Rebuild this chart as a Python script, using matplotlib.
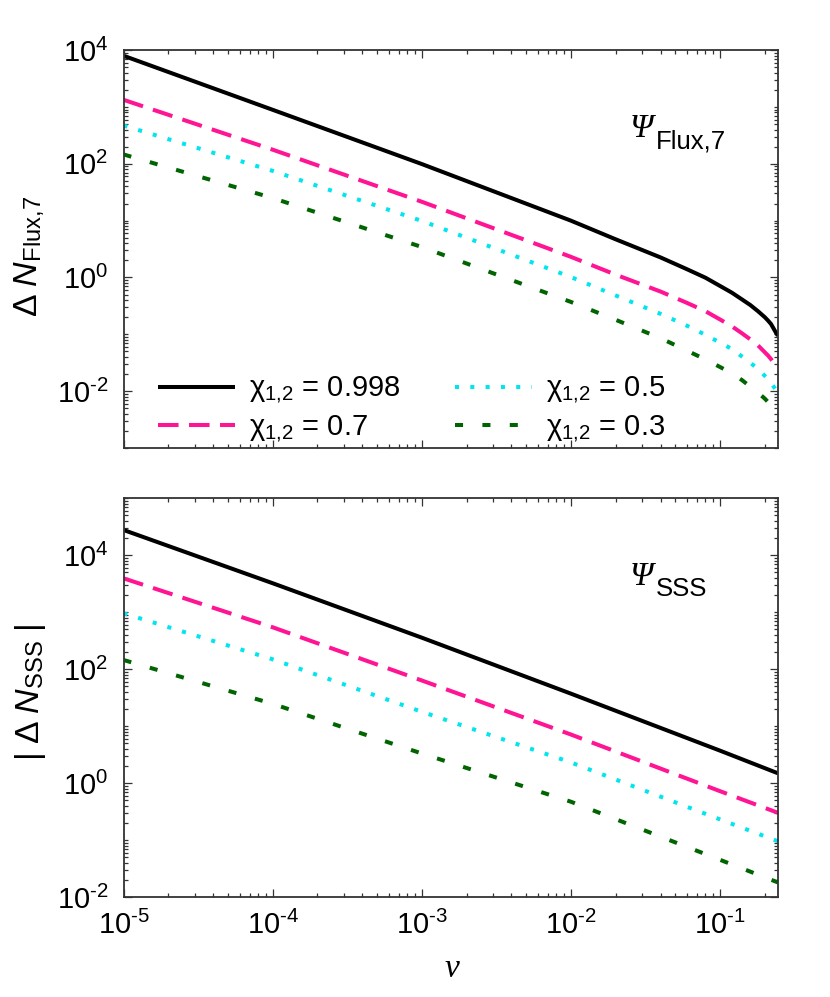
import numpy as np
import matplotlib
matplotlib.use('Agg')
import matplotlib.pyplot as plt
from matplotlib.ticker import FixedLocator, FuncFormatter, NullFormatter

# ---------------- data ----------------
nu_flux = [1e-5, 1e-4, 1e-3, 1e-2, 0.02, 0.04, 0.06, 0.08, 0.1, 0.12, 0.14, 0.16,
           0.18, 0.2, 0.21, 0.22, 0.23, 0.24, 0.245]
flux_0998 = [7943, 890, 99, 10.0, 4.69, 2.25, 1.40, 0.99, 0.711, 0.542, 0.414, 0.327,
             0.255, 0.200, 0.175, 0.152, 0.124, 0.102, 0.095]
flux_07 = [1334, 177, 21.5, 2.31, 1.12, 0.565, 0.358, 0.255, 0.183, 0.139, 0.105, 0.0815,
           0.064, 0.0483, 0.0425, 0.0367, 0.0316, 0.0269, 0.0247]
flux_05 = [471, 75, 9.9, 1.02, 0.482, 0.229, 0.142, 0.098, 0.0716, 0.0555, 0.041, 0.0315,
           0.0246, 0.0186, 0.0164, 0.0139, 0.0119, 0.0103, 0.0095]
flux_03 = [146, 25, 3.44, 0.372, 0.18, 0.0855, 0.0518, 0.0361, 0.0267, 0.0207, 0.0158, 0.012,
           0.00944, 0.0074, 0.00646, 0.0056, 0.0049, 0.00427, 0.0040]

nu_sss = [1e-5, 1e-4, 1e-3, 1e-2, 0.1, 0.245]
sss_0998 = [2.75e4, 3.2e3, 355, 37, 3.7, 1.48]
sss_07 = [3.9e3, 540, 63, 7.1, 0.72, 0.30]
sss_05 = [950, 148, 17.8, 2.3, 0.23, 0.095]
sss_03 = [144, 24.5, 3.3, 0.47, 0.045, 0.018]

spin_labels = ['0.998', '0.7', '0.5', '0.3']
colors = ['black', '#ff1493', '#00e5ee', '#006400']
dashes = [None, (5.1, 2.6), (1.0, 2.8), (2.0, 4.8)]

# ---------------- style ----------------
plt.rcParams['font.family'] = ['Liberation Sans', 'DejaVu Sans']
plt.rcParams['mathtext.fontset'] = 'custom'
plt.rcParams['mathtext.rm'] = 'Liberation Sans'
plt.rcParams['mathtext.it'] = 'Liberation Serif:italic'
plt.rcParams['mathtext.sf'] = 'Liberation Sans:italic'
plt.rcParams['mathtext.bf'] = 'Liberation Sans:bold'

W, H = 830, 997
fig = plt.figure(figsize=(8.3, 9.97), dpi=100)
ax1 = fig.add_axes([0.1488, 0.5506, 0.7885, 0.3992])
ax2 = fig.add_axes([0.1488, 0.1003, 0.7885, 0.4002])

def sci(v, pos):
    e = int(round(np.log10(v)))
    s = ('\u2010%d' % -e) if e < 0 else ('%d' % e)
    return r'$\mathrm{10^{%s}}$' % s

def style_axes(ax, ymin_exp, ymax_exp, show_x):
    ax.set_xscale('log')
    ax.set_yscale('log')
    ax.set_xlim(1e-5, 0.245)
    ax.set_ylim(10.0 ** ymin_exp, 10.0 ** ymax_exp)
    xmaj = [10.0 ** e for e in range(-5, 0)]
    xmin = [k * 10.0 ** e for e in range(-5, 0) for k in range(2, 10)]
    ax.xaxis.set_major_locator(FixedLocator(xmaj))
    ax.xaxis.set_minor_locator(FixedLocator(xmin))
    ax.xaxis.set_major_formatter(FuncFormatter(sci) if show_x else NullFormatter())
    ax.xaxis.set_minor_formatter(NullFormatter())
    ymaj = [10.0 ** e for e in range(ymin_exp, ymax_exp + 1) if e % 2 == 0]
    ymin = [k * 10.0 ** e for e in range(ymin_exp, ymax_exp + 1) for k in range(1, 10)
            if not (k == 1 and e % 2 == 0)]
    ax.yaxis.set_major_locator(FixedLocator(ymaj))
    ax.yaxis.set_minor_locator(FixedLocator(ymin))
    ax.yaxis.set_major_formatter(FuncFormatter(sci))
    ax.yaxis.set_minor_formatter(NullFormatter())
    ax.tick_params(which='both', direction='in', top=True, right=True,
                   color='#333333', width=0.9)
    ax.tick_params(which='major', length=6, labelsize=21)
    ax.tick_params(which='minor', length=3.2)
    ax.tick_params(axis='y', which='major', pad=11)
    ax.tick_params(axis='x', which='major', pad=10)
    for s in ax.spines.values():
        s.set_linewidth(1.3)
        s.set_color('#333333')

def draw(ax, nu, series):
    handles = []
    for vals, lab, c, d in zip(series, spin_labels, colors, dashes):
        kw = dict(color=c, lw=2.9, label=r'$\mathrm{\chi_{1{,}2}}$ = ' + lab,
                  solid_capstyle='butt', dash_capstyle='butt')
        line, = ax.plot(nu, vals, **kw)
        if d is not None:
            line.set_dashes(d)
        handles.append(line)
    return handles

h = draw(ax1, nu_flux, [flux_0998, flux_07, flux_05, flux_03])
draw(ax2, nu_sss, [sss_0998, sss_07, sss_05, sss_03])

style_axes(ax1, -3, 4, False)
style_axes(ax2, -2, 5, True)

ax1.legend(handles=h, ncol=2, loc='center left', bbox_to_anchor=(0.0527, 0.096),
           frameon=False, fontsize=21, handlelength=2.65, handletextpad=0.48,
           columnspacing=1.85, labelspacing=0.26, borderpad=0, borderaxespad=0)

# Psi annotations: italic serif Psi + sans subscript
def psi_label(x_psi, y_base, sub, x_sub, y_sub):
    fig.text(x_psi / W, 1 - y_base / H, 'Ψ', fontsize=24, fontfamily='Liberation Serif',
             fontstyle='italic', ha='left', va='baseline')
    fig.text(x_sub / W, 1 - y_sub / H, sub, fontsize=18.5, ha='left', va='baseline')

psi_label(630, 137, 'Flux,7', 656, 148.5)
psi_label(630, 585, 'SSS', 656, 596)

fig.text(30 / W, 1 - 256 / H, r'$\mathrm{Δ}\ \mathsf{N}_{\mathrm{Flux{,}7}}$',
         rotation=90, ha='center', va='center', fontsize=24.5)
fig.text(30 / W, 1 - 692 / H, r'$\mathrm{|\ Δ}\ \mathsf{N}_{\mathrm{SSS}}\ \mathrm{|}$',
         rotation=90, ha='center', va='center', fontsize=24.5)
fig.text(452 / W, 1 - 968 / H, r'$ν$', ha='center', va='center', fontsize=24)

fig.savefig('out.png', dpi=100)
